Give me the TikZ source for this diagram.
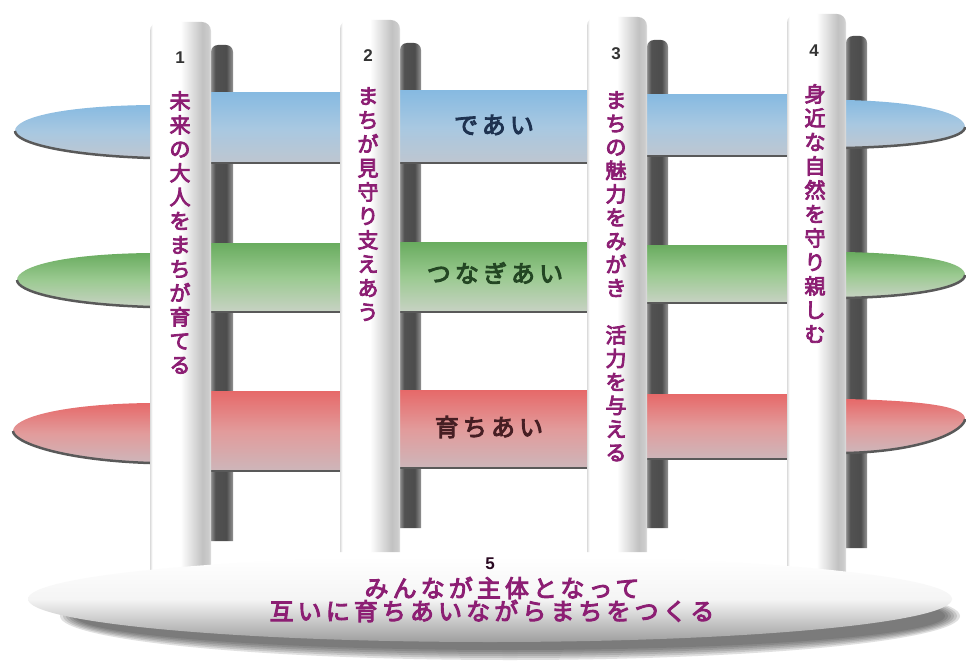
\documentclass[tikz,border=0pt]{standalone}
\usepackage{fontspec}
\newfontfamily\jp{Noto Sans CJK JP}[FakeBold=4]
\newfontfamily\jpw{Noto Sans CJK JP}[FakeBold=4,LetterSpace=17]
\newfontfamily\numf{Liberation Sans}
\definecolor{vtxt}{RGB}{140,30,115}
\definecolor{blA}{RGB}{135,186,225}
\definecolor{blB}{RGB}{168,200,225}
\definecolor{blC}{RGB}{190,198,208}
\definecolor{grA}{RGB}{105,172,95}
\definecolor{grB}{RGB}{155,202,145}
\definecolor{grC}{RGB}{200,210,196}
\definecolor{rdA}{RGB}{230,105,105}
\definecolor{rdB}{RGB}{226,155,155}
\definecolor{rdC}{RGB}{205,182,186}
\definecolor{bltx}{RGB}{30,50,80}
\definecolor{grtx}{RGB}{35,70,35}
\definecolor{rdtx}{RGB}{70,30,35}
\pgfdeclarehorizontalshading{pillarsh}{100bp}{color(0bp)=(black!14); color(25bp)=(black!14); color(27bp)=(white); color(50bp)=(white); color(68bp)=(black!24); color(73bp)=(black!20); color(75bp)=(black!12); color(100bp)=(black!12)}
\pgfdeclarehorizontalshading{shadowsh}{100bp}{color(0bp)=(black!45); color(25bp)=(black!45); color(35bp)=(black!68); color(60bp)=(black!70); color(75bp)=(black!42); color(100bp)=(black!42)}
\tikzset{
  bluefill/.style={top color=blA, bottom color=blC, middle color=blB},
  greenfill/.style={top color=grA, bottom color=grC, middle color=grB},
  redfill/.style={top color=rdA, bottom color=rdC, middle color=rdB},
  bandedge/.style={draw=black!65, line width=2.5pt},
  pillar/.style={shading=pillarsh, rounded corners=9pt},
  pshadow/.style={shading=shadowsh, rounded corners=7pt},
  numtxt/.style={font=\numf\bfseries\fontsize{17}{17}\selectfont, text=black!80, inner sep=0pt},
  vtext/.style={font=\jp\fontsize{21}{24}\selectfont, text=vtxt, align=center, inner sep=0pt, anchor=north},
  bandtxt/.style={font=\jpw\fontsize{24}{24}\selectfont, inner sep=0pt},
  basetxt/.style={font=\jpw\fontsize{24}{24}\selectfont, text=vtxt, inner sep=0pt}
}
\newcommand\bandleft[5]{% style, top, bottom, tipx, tipy
  \shade[#1] (150,#2) .. controls (60,{#2+1}) and (#4,{#5-13}) .. (#4,#5) .. controls (#4,{#5+11}) and (60,{#3-3}) .. (150,#3) -- cycle;
  \draw[bandedge] (#4,#5) .. controls (#4,{#5+11}) and (60,{#3-3}) .. (150,#3);}
\newcommand\bandright[5]{% style, top, bottom, tipx, tipy
  \shade[#1] (846,#2) .. controls (930,{#2+2}) and (#4,{#5-12}) .. (#4,#5) .. controls (#4,{#5+10}) and (930,{#3-2}) .. (846,#3) -- cycle;
  \draw[bandedge] (#4,#5) .. controls (#4,{#5+10}) and (930,{#3-2}) .. (846,#3);}
\begin{document}
\begin{tikzpicture}[x=1pt,y=-1pt]
\useasboundingbox (0,0) rectangle (966,663);
\fill[white] (0,0) rectangle (966,663);
% pillar shadows
\shade[pshadow] (211,541) -- (211,45) -- (233,45) -- (233,541);
\shade[pshadow] (400,528) -- (400,43) -- (421,43) -- (421,528);
\shade[pshadow] (647,528) -- (647,40) -- (668,40) -- (668,528);
\shade[pshadow] (846,548) -- (846,36) -- (867,36) -- (867,548);
% blue band
\bandleft{bluefill}{105}{158}{15}{131}
\shade[bluefill] (211,93) rectangle (340,163); \draw[bandedge] (211,163) -- (340,163);
\shade[bluefill] (400,91) rectangle (587,163); \draw[bandedge] (400,163) -- (587,163);
\shade[bluefill] (647,95) rectangle (787,156); \draw[bandedge] (647,156) -- (787,156);
\bandright{bluefill}{100}{148}{965}{127}
% green band
\bandleft{greenfill}{253}{307}{17}{280}
\shade[greenfill] (211,243) rectangle (340,312); \draw[bandedge] (211,312) -- (340,312);
\shade[greenfill] (400,242) rectangle (587,312); \draw[bandedge] (400,312) -- (587,312);
\shade[greenfill] (647,245) rectangle (787,303); \draw[bandedge] (647,303) -- (787,303);
\bandright{greenfill}{252}{298}{965}{275}
% red band
\bandleft{redfill}{403}{463}{13}{431}
\shade[redfill] (211,391) rectangle (340,471); \draw[bandedge] (211,471) -- (340,471);
\shade[redfill] (400,390) rectangle (587,468); \draw[bandedge] (400,468) -- (587,468);
\shade[redfill] (647,394) rectangle (787,459); \draw[bandedge] (647,459) -- (787,459);
\bandright{redfill}{399}{453}{965}{419}
% pillars
\shade[pillar] (150,578) -- (150,22) -- (211,22) -- (211,578);
\shade[pillar] (340,552) -- (340,20) -- (400,20) -- (400,552);
\shade[pillar] (587,552) -- (587,17) -- (647,17) -- (647,552);
\shade[pillar] (787,572) -- (787,14) -- (846,14) -- (846,572);
% base shadow
\foreach \k in {0,...,5}
  \fill[black!85, opacity=0.14] (510,616) ellipse ({450-3*\k} and {44-2*\k});
% base
\shade[top color=white, bottom color=black!38, middle color=black!4] (490,599) ellipse (462 and 43);
% labels
\node[numtxt] (n1) at (180,58) {1};
\node[numtxt] (n2) at (368,56) {2};
\node[numtxt] (n3) at (616,54) {3};
\node[numtxt] (n4) at (814,51) {4};
\node[vtext] (t1) at (180,91) {未\\来\\の\\大\\人\\を\\ま\\ち\\が\\育\\て\\る};
\node[vtext] (t2) at (368,87) {ま\\ち\\が\\見\\守\\り\\支\\え\\あ\\う};
\node[vtext, font=\jp\fontsize{21}{23.5}\selectfont] (t3) at (616,91) {ま\\ち\\の\\魅\\力\\を\\み\\が\\き\\\mbox{}\\活\\力\\を\\与\\え\\る};
\node[vtext] (t4) at (815,84) {身\\近\\な\\自\\然\\を\\守\\り\\親\\し\\む};
\node[bandtxt, text=bltx] (l1) at (494,125) {であい};
\node[bandtxt, text=grtx] (l2) at (495,273) {つなぎあい};
\node[bandtxt, text=rdtx] (l3) at (489,427) {育ちあい};
\node[numtxt, text=black!70!vtxt] (b5) at (490,564) {5};
\node[basetxt] (b1) at (502,588) {みんなが主体となって};
\node[basetxt] (b2) at (492,611) {互いに育ちあいながらまちをつくる};
\end{tikzpicture}
\end{document}
